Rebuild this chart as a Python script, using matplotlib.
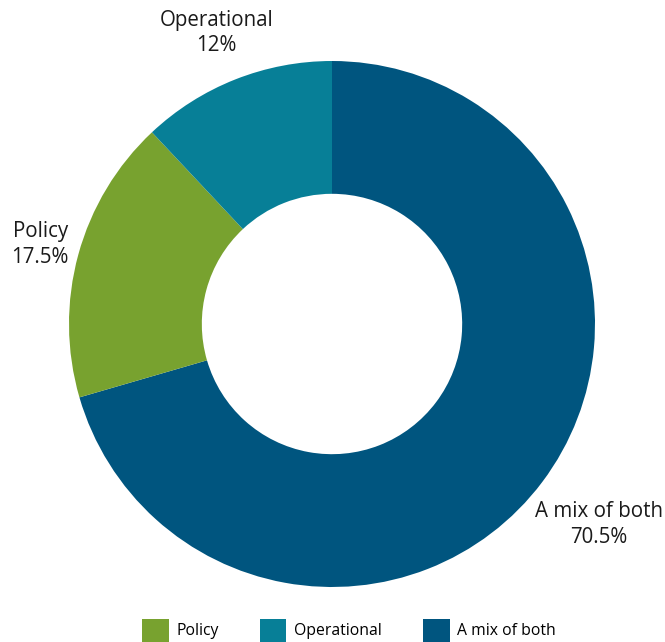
import numpy as np
import matplotlib

matplotlib.use("Agg")
import matplotlib.pyplot as plt  # noqa: E402
from matplotlib.patches import Patch  # noqa: E402

# Slices in drawing order (clockwise from 12 o'clock)
CATEGORIES = ["A mix of both", "Policy", "Operational"]
SHARES = [70.5, 17.5, 12.0]
SHARE_LABELS = ["70.5%", "17.5%", "12%"]
COLORS = ["#00557f", "#78a22f", "#077f97"]
LEGEND_ORDER = ["Policy", "Operational", "A mix of both"]

plt.rcParams["font.family"] = ["Open Sans", "DejaVu Sans"]

fig = plt.figure(figsize=(6.65, 6.42), dpi=100)
ax = fig.add_axes([0, 0, 1, 1])

wedges, _ = ax.pie(
    SHARES,
    colors=COLORS,
    startangle=90,
    counterclock=False,
    radius=1.0,
    wedgeprops=dict(width=0.505, linewidth=0),
)

# label placement around each slice
label_dist = {"A mix of both": 1.27, "Policy": 1.15, "Operational": 1.19}
for w, cat, lab in zip(wedges, CATEGORIES, SHARE_LABELS):
    mid = np.deg2rad((w.theta1 + w.theta2) / 2)
    r = label_dist[cat]
    x, y = r * np.cos(mid), r * np.sin(mid)
    ax.text(x, y, f"{cat}\n{lab}", ha="center", va="center", fontsize=14.8,
            color="#1a1a1a", linespacing=1.3)

ax.set_xlim(-332 / 263, 333 / 263)
ax.set_ylim(-318 / 263, 324 / 263)
ax.set_aspect("equal")
ax.axis("off")

color_map = dict(zip(CATEGORIES, COLORS))
handles = [Patch(facecolor=color_map[c], label=c) for c in LEGEND_ORDER]
fig.legend(handles=handles, loc="lower center", bbox_to_anchor=(0.525, -0.022),
           ncol=3, frameon=False, fontsize=11.3, handlelength=1.7, handleheight=1.9,
           columnspacing=2.6, handletextpad=0.5)

fig.savefig("out.png", dpi=100)
